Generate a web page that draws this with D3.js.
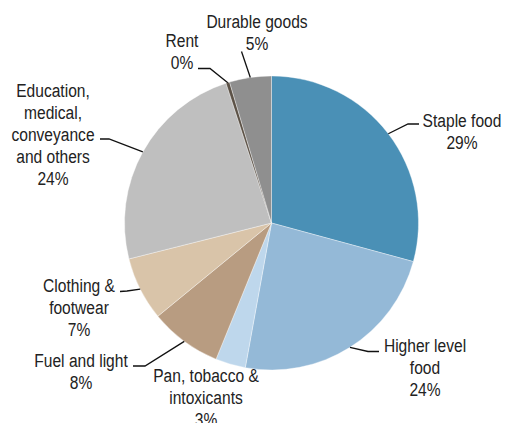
<!DOCTYPE html>
<html>
<head>
<meta charset="utf-8">
<script src="https://cdn.jsdelivr.net/npm/d3@7/dist/d3.min.js"></script>
<style>
  html, body { margin: 0; padding: 0; background: #fff; }
  svg text { font-family: "Liberation Sans", Arial, sans-serif; font-size: 19px; fill: #222; }
</style>
</head>
<body>
<svg id="chart" width="507" height="423"></svg>
<script>
// Household consumption expenditure shares (%)
const categories = [
  "Staple food",
  "Higher level food",
  "Pan, tobacco & intoxicants",
  "Fuel and light",
  "Clothing & footwear",
  "Education, medical, conveyance and others",
  "Rent",
  "Durable goods"
];
const shares = [29.2, 23.6, 3.3, 7.9, 7.0, 23.9, 0.4, 4.6];
const colors = ["#4a90b6", "#94b9d7", "#bed7ec", "#b89c81", "#d9c4a9", "#bfbfbf", "#5c5247", "#8f8f8f"];
// Label text split over lines
const labelLines = [
  ["Staple food"],
  ["Higher level", "food"],
  ["Pan, tobacco &", "intoxicants"],
  ["Fuel and light"],
  ["Clothing &", "footwear"],
  ["Education,", "medical,", "conveyance", "and others"],
  ["Rent"],
  ["Durable goods"]
];

const data = categories.map((c, i) => ({ name: c, value: shares[i], color: colors[i], lines: labelLines[i] }));

const cx = 271.5, cy = 223, radius = 147;
const lineH = 22;
const narrow = 0.82; // horizontal squeeze for a condensed look

// Label placement: text centre x, first-line y, and leader line end / elbow
const layout = {
  "Staple food":               { x: 462, y: 120, end: [419, 124], elbow: [408, 124] },
  "Higher level food":         { x: 425, y: 345, end: [379, 351.5], elbow: [368, 351.5] },
  "Pan, tobacco & intoxicants":{ x: 206, y: 375, end: null },
  "Fuel and light":            { x: 81,  y: 360, end: [133, 366], elbow: [145, 366] },
  "Clothing & footwear":       { x: 79,  y: 285, end: [120, 291.5], elbow: [127, 291] },
  "Education, medical, conveyance and others": { x: 53, y: 90, end: [100, 139], elbow: [109, 139] },
  "Rent":                      { x: 182, y: 40, end: [198, 68.5], elbow: [210, 68.5] },
  "Durable goods":             { x: 257, y: 21, end: [241.5, 51.5], elbow: [241.5, 51.5] }
};

const svg = d3.select("#chart");
const g = svg.append("g").attr("transform", `translate(${cx},${cy})`);

const pie = d3.pie().value(d => d.value).sort(null);
const arc = d3.arc().innerRadius(0).outerRadius(radius);
const arcs = pie(data);

g.selectAll("path.slice")
  .data(arcs)
  .join("path")
  .attr("class", "slice")
  .attr("d", arc)
  .attr("fill", d => d.data.color)
  .attr("stroke", "#ffffff")
  .attr("stroke-opacity", 0.6)
  .attr("stroke-width", 0.6);

// Leader lines from slice edge to labels
const total = d3.sum(shares);
arcs.forEach(a => {
  const L = layout[a.data.name];
  if (!L || !L.end) return;
  const mid = (a.startAngle + a.endAngle) / 2;
  const px = cx + radius * Math.sin(mid);
  const py = cy - radius * Math.cos(mid);
  svg.append("polyline")
    .attr("points", [[px, py], L.elbow, L.end].map(p => p.join(",")).join(" "))
    .attr("fill", "none")
    .attr("stroke", "#111")
    .attr("stroke-width", 1.3);
});

// Labels: name lines plus rounded percentage
arcs.forEach(a => {
  const L = layout[a.data.name];
  const pct = Math.round(a.data.value / total * 100) + "%";
  const lines = a.data.lines.concat([pct]);
  const t = svg.append("text")
    .attr("transform", `translate(${L.x},0) scale(${narrow},1)`)
    .attr("text-anchor", "middle")
    .attr("dominant-baseline", "central");
  lines.forEach((s, i) => {
    t.append("tspan").attr("x", 0).attr("y", L.y + i * lineH).text(s);
  });
});
</script>
</body>
</html>
